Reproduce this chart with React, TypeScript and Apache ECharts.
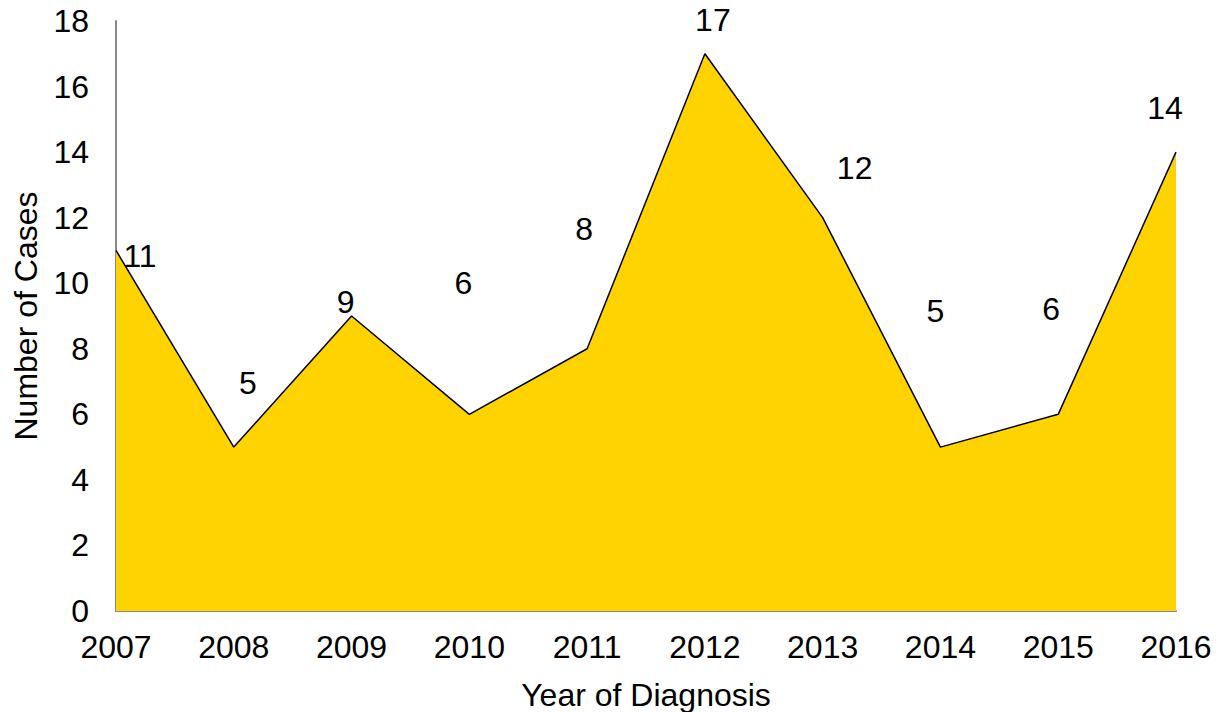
import React, { useEffect, useRef } from "react";
import * as echarts from "echarts";

const years = ["2007", "2008", "2009", "2010", "2011", "2012", "2013", "2014", "2015", "2016"];
const cases = [11, 5, 9, 6, 8, 17, 12, 5, 6, 14];
// manual label placement offsets (as in original chart)
const labelOffsets: [number, number][] = [
  [24, 6], [14, -64], [-6, -14], [-6, -131], [-3, -120],
  [8, -34], [32, -50], [-5, -136], [-7, -105], [-11, -44],
];

export default function App() {
  const ref = useRef<HTMLDivElement>(null);
  useEffect(() => {
    if (!ref.current) return;
    const chart = echarts.init(ref.current, undefined, { renderer: "svg" });
    const font = "'Liberation Sans', Arial, sans-serif";
    chart.setOption({
      animation: false,
      backgroundColor: "#ffffff",
      grid: { left: 116, right: 52, top: 21, bottom: 101, containLabel: false, outerBoundsMode: "none" },
      xAxis: {
        type: "category",
        data: years,
        boundaryGap: false,
        axisLine: { show: true, lineStyle: { color: "#898989", width: 2 } },
        axisTick: { show: false },
        axisLabel: { color: "#000", fontSize: 32, fontFamily: font, margin: 20 },
        name: "Year of Diagnosis",
        nameLocation: "middle",
        nameGap: 68,
        nameTextStyle: { color: "#000", fontSize: 32, fontFamily: font },
        splitLine: { show: false },
      },
      yAxis: {
        type: "value",
        min: 0,
        max: 18,
        interval: 2,
        axisLine: { show: true, lineStyle: { color: "#898989", width: 2 } },
        axisTick: { show: false },
        axisLabel: { color: "#000", fontSize: 32, fontFamily: font, margin: 27 },
        splitLine: { show: false },
        name: "Number of Cases",
        nameLocation: "middle",
        nameGap: 74,
        nameRotate: 90,
        nameTextStyle: { color: "#000", fontSize: 32, fontFamily: font },
      },
      series: [
        {
          type: "line",
          data: cases.map((v, i) => ({
            value: v,
            label: { offset: labelOffsets[i] },
          })),
          showSymbol: true,
          symbol: "circle",
          symbolSize: 1,
          lineStyle: { color: "#000", width: 1.5 },
          itemStyle: { color: "transparent", borderWidth: 0 },
          areaStyle: { color: "#FFD300", opacity: 1 },
          label: {
            show: true,
            position: "inside",
            color: "#000",
            fontSize: 32,
            fontFamily: font,
          },
          z: 1,
        },
      ],
    });
    return () => chart.dispose();
  }, []);
  return <div ref={ref} style={{ width: 1228, height: 712, position: "absolute", left: 0, top: 0 }} />;
}
